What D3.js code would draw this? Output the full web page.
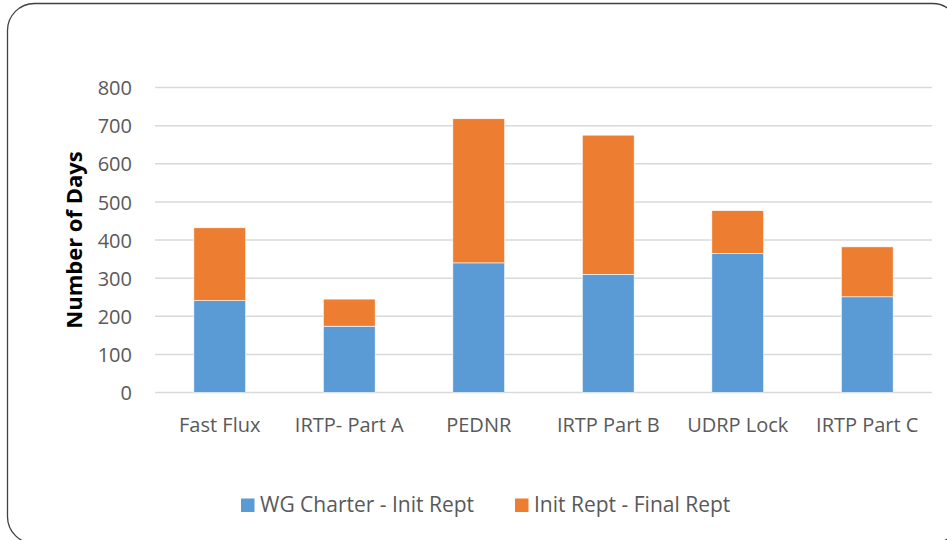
<!DOCTYPE html>
<html>
<head>
<meta charset="utf-8">
<script src="https://cdn.jsdelivr.net/npm/d3@7"></script>
<style>
  body { margin: 0; background: #fff; }
  text { font-family: "Open Sans", "Noto Sans", sans-serif; fill: #595959; }
</style>
</head>
<body>
<div id="chart"></div>
<script>
// data
const categories = ["Fast Flux", "IRTP- Part A", "PEDNR", "IRTP Part B", "UDRP Lock", "IRTP Part C"];
const charterToInit = [241, 174, 340, 310, 365, 251];
const initToFinal = [191, 71, 378, 365, 112, 131];
const seriesNames = ["WG Charter - Init Rept", "Init Rept - Final Rept"];
const yTicks = [0, 100, 200, 300, 400, 500, 600, 700, 800];

const colors = ["#5B9BD5", "#ED7D31"];
const W = 947, H = 540;
const margin = {top: 87.5, right: 15, bottom: 147.5, left: 155};

const svg = d3.select("#chart").append("svg")
    .attr("width", W)
    .attr("height", H);

// rounded frame
svg.append("rect")
    .attr("x", 7.5).attr("y", 3.5)
    .attr("width", 952).attr("height", 540)
    .attr("rx", 27).attr("ry", 27)
    .attr("fill", "none")
    .attr("stroke", "#404040")
    .attr("stroke-width", 1.3);

const x = d3.scaleBand()
    .domain(categories)
    .range([margin.left, W - margin.right])
    .paddingInner(0.6)
    .paddingOuter(0.3);

const y = d3.scaleLinear()
    .domain([0, 800])
    .range([H - margin.bottom, margin.top]);

// gridlines
svg.append("g")
    .selectAll("line")
    .data(yTicks)
    .join("line")
      .attr("x1", margin.left)
      .attr("x2", W - margin.right)
      .attr("y1", d => y(d))
      .attr("y2", d => y(d))
      .attr("stroke", "#D9D9D9")
      .attr("stroke-width", 1.5);

// stacked bars
const rows = categories.map((c, i) => ({cat: c, a: charterToInit[i], b: initToFinal[i]}));
const stack = d3.stack().keys(["a", "b"])(rows);

svg.append("g")
    .selectAll("g")
    .data(stack)
    .join("g")
      .attr("fill", (d, i) => colors[i])
    .selectAll("rect")
    .data(d => d)
    .join("rect")
      .attr("x", d => x(d.data.cat))
      .attr("width", x.bandwidth())
      .attr("y", d => y(d[1]))
      .attr("height", d => y(d[0]) - y(d[1]))
      .attr("stroke", "#fff")
      .attr("stroke-width", 0.6);

// y axis labels
const yAxis = svg.append("g")
    .attr("transform", `translate(${margin.left - 23},0)`)
    .call(d3.axisLeft(y).tickValues(yTicks).tickSize(0).tickPadding(0));
yAxis.select(".domain").remove();
yAxis.selectAll("text")
    .style("font-size", "20px")
    .style("font-family", "\"Open Sans\", sans-serif")
    .attr("fill", "#595959")
    .attr("dy", "0.36em");

// x axis labels
const xAxis = svg.append("g")
    .attr("transform", `translate(0,${y(0)})`)
    .call(d3.axisBottom(x).tickSize(0).tickPadding(0));
xAxis.select(".domain").remove();
xAxis.selectAll("text")
    .style("font-size", "20px")
    .style("font-family", "\"Open Sans\", sans-serif")
    .attr("fill", "#595959")
    .attr("dy", 0)
    .attr("y", 39.5);

// y title
svg.append("text")
    .attr("transform", `translate(82,${y(400)}) rotate(-90)`)
    .attr("text-anchor", "middle")
    .style("font-size", "22px")
    .style("font-weight", "bold")
    .style("fill", "#000")
    .text("Number of Days");

// legend
const legendItems = [{x: 241, name: seriesNames[0], c: colors[0]}, {x: 515, name: seriesNames[1], c: colors[1]}];
const lg = svg.append("g");
lg.selectAll("rect")
    .data(legendItems)
    .join("rect")
      .attr("x", d => d.x)
      .attr("y", 498.5)
      .attr("width", 13.5)
      .attr("height", 13.5)
      .attr("fill", d => d.c);
lg.selectAll("text")
    .data(legendItems)
    .join("text")
      .attr("x", d => d.x + 19)
      .attr("y", 512)
      .style("font-size", "21px")
      .text(d => d.name);
</script>
</body>
</html>
